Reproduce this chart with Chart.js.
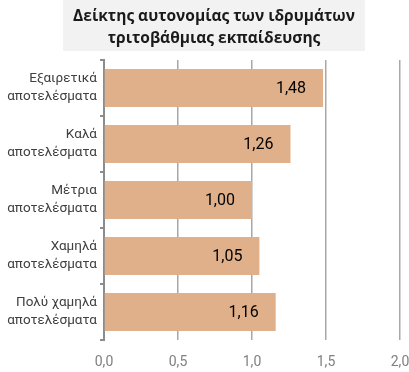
<!DOCTYPE html>
<html>
<head>
<meta charset="utf-8">
<script src="https://cdn.jsdelivr.net/npm/chart.js@4"></script>
<style>
  html, body { margin: 0; padding: 0; background: #fff; overflow: hidden; }
  #wrap { width: 416px; height: 372px; position: relative; }
</style>
</head>
<body>
<div id="wrap"><canvas id="chart"></canvas></div>
<script>
const categories = [
  ["Εξαιρετικά", "αποτελέσματα"],
  ["Καλά", "αποτελέσματα"],
  ["Μέτρια", "αποτελέσματα"],
  ["Χαμηλά", "αποτελέσματα"],
  ["Πολύ χαμηλά", "αποτελέσματα"]
];
const values = [1.48, 1.26, 1.00, 1.05, 1.16];
const titleLines = ["Δείκτης αυτονομίας των ιδρυμάτων", "τριτοβάθμιας εκπαίδευσης"];

const comma = (v, d) => v.toFixed(d).replace(".", ",");

// title sits a bit right of the canvas centre, on a grey box
const titleBox = {
  id: "titleBox",
  afterLayout(chart) {
    if (chart.titleBlock) chart.titleBlock.left = 28;
  },
  beforeDraw(chart) {
    const ctx = chart.ctx;
    ctx.save();
    ctx.fillStyle = "#ffffff";
    ctx.fillRect(0, 0, chart.width, chart.height);
    const tb = chart.titleBlock;
    if (tb) {
      ctx.font = "bold 15.5px 'Open Sans'";
      let w = 0;
      titleLines.forEach(t => { w = Math.max(w, ctx.measureText(t).width); });
      const cx = (tb.left + tb.right) / 2;
      ctx.fillStyle = "#f2f2f2";
      ctx.fillRect(cx - w / 2 - 10, 0, w + 20, 51);
    }
    ctx.restore();
  }
};

// value labels inside the bar ends
const barLabels = {
  id: "barLabels",
  afterDatasetsDraw(chart) {
    const ctx = chart.ctx;
    const meta = chart.getDatasetMeta(0);
    ctx.save();
    ctx.font = "16px Roboto";
    ctx.fillStyle = "#000000";
    ctx.textAlign = "right";
    ctx.textBaseline = "middle";
    meta.data.forEach((bar, i) => {
      ctx.fillText(comma(values[i], 2), bar.x - 17, bar.y + 1);
    });
    ctx.restore();
  }
};

new Chart(document.getElementById("chart"), {
  type: "bar",
  data: {
    labels: categories,
    datasets: [{
      data: values,
      backgroundColor: "#e0b08a",
      borderWidth: 0,
      categoryPercentage: 1,
      barPercentage: 0.68
    }]
  },
  options: {
    indexAxis: "y",
    responsive: true,
    maintainAspectRatio: false,
    animation: false,
    layout: { padding: { left: 0, right: 16, top: 0, bottom: 0 } },
    plugins: {
      legend: { display: false },
      tooltip: { enabled: false },
      title: {
        display: true,
        text: titleLines,
        color: "#1a1a1a",
        font: { family: "'Open Sans'", size: 15.5, weight: "bold", lineHeight: 1.4 },
        padding: { top: 6, bottom: 10.6 }
      }
    },
    scales: {
      x: {
        min: 0,
        max: 2,
        ticks: {
          stepSize: 0.5,
          padding: 3,
          color: "#808080",
          font: { family: "Roboto", size: 14 },
          callback: v => comma(v, 1)
        },
        grid: { color: "#a8a8a8", lineWidth: 1.5, drawTicks: true, tickLength: 11, tickColor: "rgba(0,0,0,0)" },
        border: { display: false },
        afterFit(scale) { scale.height = 32; }
      },
      y: {
        offset: true,
        ticks: {
          padding: 3,
          color: "#404040",
          font: { family: "Roboto", size: 13.5, lineHeight: 1.33 }
        },
        grid: { offset: true, drawOnChartArea: false, drawTicks: true, tickLength: 4, color: "#8c8c8c", lineWidth: 2 },
        border: { display: true, color: "#8c8c8c", width: 2 },
        afterFit(scale) { scale.width = 104; }
      }
    }
  },
  plugins: [titleBox, barLabels]
});
</script>
</body>
</html>
